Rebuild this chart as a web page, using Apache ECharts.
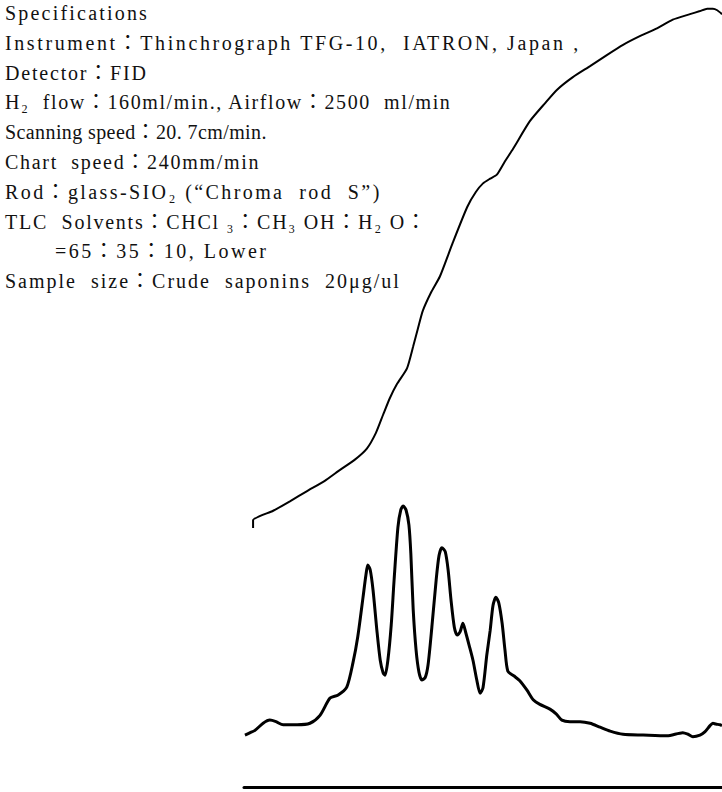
<!DOCTYPE html>
<html>
<head>
<meta charset="utf-8">
<script src="https://cdn.jsdelivr.net/npm/echarts/dist/echarts.min.js"></script>
<style>
html,body{margin:0;padding:0;background:#fff;}
#c{width:722px;height:792px;}
#c svg text{white-space:pre;}
</style>
</head>
<body>
<div id="c"></div>
<script>
// Specification text lines
const specLines = [
  "Specifications",
  "Instrument：Thinchrograph TFG-10,  IATRON, Japan ,",
  "Detector：FID",
  "H₂  flow：160ml/min., Airflow：2500  ml/min",
  "Scanning speed：20. 7cm/min.",
  "Chart  speed：240mm/min",
  "Rod：glass-SIO₂ (“Chroma  rod  S”)",
  "TLC  Solvents：CHCl ₃：CH₃ OH：H₂ O：",
  "=65：35：10, Lower",
  "Sample  size：Crude  saponins  20μg/ul"
];

// Scan position (% of scan) and detector signal (% of chart height)
const chromX = [0.2,1.3,2.3,4.0,5.4,6.7,8.2,11.1,13.8,15.9,18.0,19.7,21.5,22.8,23.8,24.9,25.5,25.9,26.4,27.0,27.8,28.5,29.1,29.5,30.1,30.8,31.4,32.2,32.8,33.3,33.9,34.5,34.9,35.4,36.0,36.6,37.2,37.9,38.5,39.3,40.2,40.8,41.4,42.1,42.7,43.3,44.0,44.6,45.2,45.8,46.4,47.1,47.9,48.7,49.4,50.0,50.8,51.5,52.1,52.7,53.3,54.0,54.6,55.2,56.5,57.7,59.2,60.5,61.9,64.0,65.3,66.5,68.2,70.3,72.4,74.5,76.6,79.3,83.5,88.5,91.8,92.9,93.9,95.4,96.4,97.5,98.1,98.7,99.6,100];
const chromY = [6.6,6.9,7.2,8.1,8.5,8.3,7.9,7.9,8.1,9.1,11.3,11.7,12.7,15.8,19.1,24.1,26.9,28.2,27.6,25.0,19.9,16.1,14.5,14.2,16.1,20.6,26.3,33.0,35.2,35.7,35.2,33.3,29.7,22.5,17.4,14.6,13.6,13.9,15.5,20.3,26.3,29.4,30.4,29.9,27.6,23.8,20.3,19.3,19.7,20.8,19.6,18.0,16.1,13.6,11.9,12.6,16.8,19.9,23.1,24.1,23.4,20.8,17.4,14.7,14.1,13.5,12.3,11.1,10.5,9.9,9.3,8.5,8.3,8.3,8.1,7.6,7.1,6.7,6.6,6.5,6.9,6.7,6.4,6.6,7.0,7.8,8.1,8.0,7.9,7.8];

// Integrator trace
const integX = [1.9,1.9,6.1,9.6,13.2,16.9,20.1,23.2,25.7,27.6,29.1,30.5,32.0,34.1,35.4,36.4,37.4,39.1,41.0,43.7,46.7,48.5,50.0,51.5,52.9,54.6,56.3,59.8,63.0,65.5,68.8,72.4,75.9,79.3,82.8,86.4,89.7,93.3,95.4,96.9,98.1,99.0,100];
const integY = [32.9,33.9,35.1,36.3,37.6,38.9,40.3,41.6,43.0,45.0,47.3,49.4,51.2,53.2,56.0,58.3,60.5,62.8,64.9,69.2,73.7,75.6,76.7,77.3,77.8,79.5,81.1,84.6,86.9,88.6,90.2,91.6,93.0,94.3,95.4,96.4,97.5,98.2,98.6,98.9,98.9,98.7,98.2];

const chart = echarts.init(document.getElementById('c'), null, {renderer: 'svg'});
const font = '20px "Liberation Serif", "Noto Sans CJK JP", serif';
const lineIndent = [5,5,5,5,5,5,5,5,55,5];
const lineSpacingPx = [2.2, 2.6, 1.8, 1.6, 0.4, 1.7, 2.4, 1.75, 2.5, 2.0];

chart.setOption({
  animation: false,
  backgroundColor: '#ffffff',
  grid: {left: 244, right: 0, top: 0, bottom: 5},
  xAxis: {
    type: 'value', min: 0, max: 100,
    axisLine: {show: true, lineStyle: {color: '#000', width: 3}},
    axisTick: {show: false}, axisLabel: {show: false}, splitLine: {show: false}
  },
  yAxis: {
    type: 'value', min: 0, max: 100, show: false
  },
  graphic: specLines.map((t, i) => ({
    type: 'text',
    left: lineIndent[i],
    top: 3 + i * 29.8,
    style: {text: t, font: font, fill: '#111'}
  })),
  series: [
    {
      type: 'line', name: 'FID',
      data: chromX.map((x, i) => [x, chromY[i]]),
      showSymbol: false, smooth: 0.25,
      lineStyle: {color: '#000', width: 3}
    },
    {
      type: 'line', name: 'Integral',
      data: integX.map((x, i) => [x, integY[i]]),
      showSymbol: false, smooth: 0.2,
      lineStyle: {color: '#000', width: 2}
    }
  ]
});

function applySpacing() {
  document.querySelectorAll('#c svg text').forEach(el => {
    const i = specLines.indexOf(el.textContent);
    if (i >= 0) el.style.letterSpacing = lineSpacingPx[i] + 'px';
  });
}
applySpacing();
chart.on('finished', applySpacing);
</script>
</body>
</html>
